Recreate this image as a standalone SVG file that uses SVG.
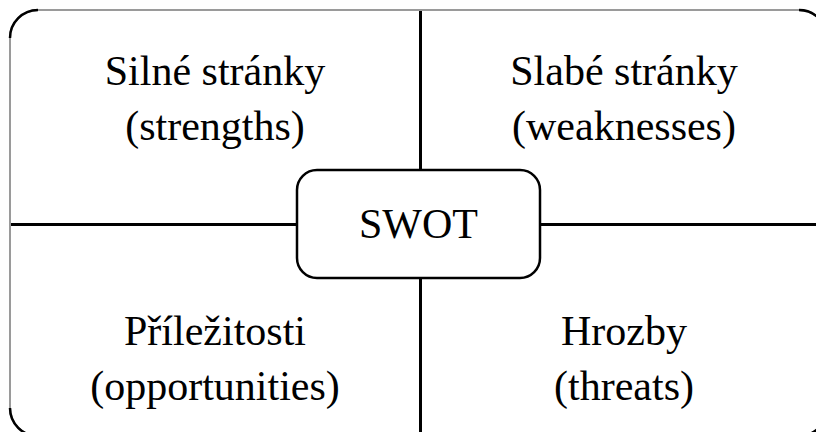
<svg xmlns="http://www.w3.org/2000/svg" width="816" height="432" viewBox="0 0 816 432">
<style>
.t{font-family:"Liberation Serif","Times New Roman",serif;font-size:42px;fill:#000;text-anchor:middle}
.ln{stroke:#000;stroke-width:3;fill:none}
</style>
<rect width="816" height="432" fill="#fff"/>
<g id="frame">
<rect x="10" y="10" width="817" height="426" rx="28" ry="28" fill="none" stroke="#9a9a9a" stroke-width="2"/>
<path d="M10,38 A28,28 0 0 1 38,10 M799,10 A28,28 0 0 1 827,38 M10,408 A28,28 0 0 0 38,436 M827,408 A28,28 0 0 1 799,436" fill="none" stroke="#000" stroke-width="2.5"/>
</g>
<g id="connectors">
<line class="ln" x1="420.5" y1="11" x2="420.5" y2="170"/>
<line class="ln" x1="420.5" y1="278" x2="420.5" y2="432"/>
<line class="ln" x1="11" y1="224.5" x2="297" y2="224.5"/>
<line class="ln" x1="540" y1="224.5" x2="816" y2="224.5"/>
</g>
<g id="swot">
<rect x="297" y="170" width="243" height="108" rx="20" ry="20" fill="#fff" stroke="#000" stroke-width="2.5"/>
<text class="t" x="418.5" y="238">SWOT</text>
</g>
<g id="strengths">
<text class="t" x="215" y="85">Silné stránky</text>
<text class="t" x="215" y="140">(strengths)</text>
</g>
<g id="weaknesses">
<text class="t" x="624" y="85">Slabé stránky</text>
<text class="t" x="624" y="140">(weaknesses)</text>
</g>
<g id="opportunities">
<text class="t" x="215" y="345">Příležitosti</text>
<text class="t" x="215" y="400">(opportunities)</text>
</g>
<g id="threats">
<text class="t" x="624" y="345">Hrozby</text>
<text class="t" x="624" y="400">(threats)</text>
</g>
</svg>
